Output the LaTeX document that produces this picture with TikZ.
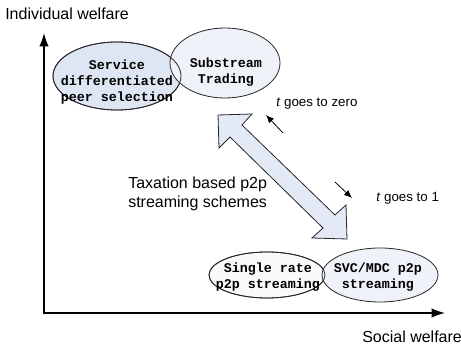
\documentclass[tikz,border=0pt]{standalone}
\usepackage{fontspec}
\setmainfont{Liberation Sans}
\setmonofont{Liberation Mono}
\usetikzlibrary{arrows.meta}
\definecolor{peerblue}{HTML}{DFE6F3}
\definecolor{paleblue}{HTML}{F0F2F9}
\definecolor{rateblue}{HTML}{F9F9FC}
\definecolor{arrowblue}{HTML}{E3EAF6}
\begin{document}
\begin{tikzpicture}[x=0.75pt,y=-0.75pt,
  axis/.style={line width=1.1pt,{Latex[length=10pt,width=7pt]}-{Latex[length=10pt,width=7pt]}},
  rim/.style={draw=black!85,line width=0.6pt},
  axislabel/.style={font=\fontsize{12}{14}\selectfont,inner sep=0pt,anchor=base west},
  scheme/.style={font=\ttfamily\bfseries\fontsize{10}{12}\selectfont,align=center,inner sep=0pt},
  hint/.style={font=\fontsize{10}{12}\selectfont,inner sep=0pt,anchor=base west},
  nudge/.style={line width=0.6pt,-{Latex[length=6pt,width=5pt]}}]
\useasboundingbox (0,0) rectangle (461,352);
\coordinate (O) at (44,313);
\coordinate (Y) at (44,33);
\coordinate (X) at (445,313);
\coordinate (P) at (117,76);
\coordinate (S) at (225,63);
\coordinate (R) at (267,275);
\coordinate (M) at (380,275);

\draw[axis] (Y)--(O)--(X);
\node[axislabel] (iw) at (5,20) {Individual welfare};
\node[axislabel] (sw) at (362,343) {Social welfare};

\filldraw[rim,fill=peerblue] (P) ellipse [x radius=48pt,y radius=25.5pt];
\filldraw[rim,fill=paleblue] (S) ellipse [x radius=41.25pt,y radius=26.25pt];
\draw[rim] (P) ellipse [x radius=48pt,y radius=25.5pt];
\filldraw[rim,fill=rateblue] (R) ellipse [x radius=43.5pt,y radius=17.25pt];
\filldraw[rim,fill=paleblue] (M) ellipse [x radius=43.5pt,y radius=20.25pt];
\draw[rim] (R) ellipse [x radius=43.5pt,y radius=17.25pt];

\node[scheme] (sdps) at (117,82) {Service\\differentiated\\peer selection};
\node[scheme] (sst) at (226,72) {Substream\\Trading};
\node[scheme] (srs) at (268,277) {Single rate\\p2p streaming};
\node[scheme] (svc) at (378,277) {SVC/MDC p2p\\streaming};

\coordinate (T1) at (218,115);
\coordinate (W1a) at (252,114);
\coordinate (S1a) at (242,125);
\coordinate (S2a) at (335,215);
\coordinate (W2a) at (346,205);
\coordinate (T2) at (347,239);
\coordinate (W2b) at (312,238);
\coordinate (S2b) at (323,228);
\coordinate (S1b) at (230,137);
\coordinate (W1b) at (219,148);
\filldraw[rim,fill=arrowblue] (T1)--(W1a)--(S1a)--(S2a)--(W2a)--(T2)--(W2b)--(S2b)--(S1b)--(W1b)--cycle;

\node[font=\fontsize{12}{14.25}\selectfont,align=left,inner sep=0pt,anchor=west] (tax) at (128,193.5) {Taxation based p2p\\streaming schemes};

\coordinate (Z0) at (283,133);
\coordinate (Z1) at (266,115);
\coordinate (N0) at (335,182);
\coordinate (N1) at (352,198);
\draw[nudge] (Z0)--(Z1);
\draw[nudge] (N0)--(N1);
\node[hint] (tz) at (276,107) {\textit{t} goes to zero};
\node[hint] (to) at (376,202) {\textit{t} goes to 1};
\end{tikzpicture}
\end{document}
